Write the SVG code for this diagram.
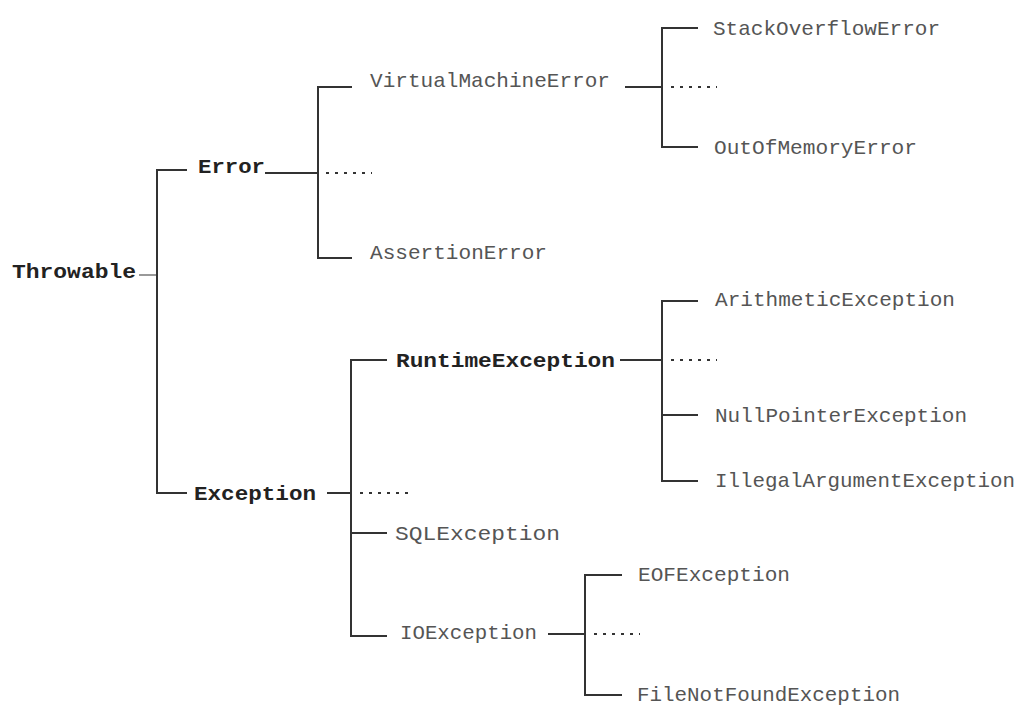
<svg xmlns="http://www.w3.org/2000/svg" width="1024" height="717" viewBox="0 0 1024 717">
<style>
.t{font-family:"Liberation Mono","Courier New",monospace;font-size:21px;fill:#555}
.b{font-family:"Liberation Mono","Courier New",monospace;font-size:21px;font-weight:bold;fill:#222}
.ln{stroke:#333;stroke-width:2;fill:none}
.dt{stroke:#333;stroke-width:2;fill:none;stroke-dasharray:3 6}
.gl{stroke:#999;stroke-width:2;fill:none}
</style>
<rect width="1024" height="717" fill="#fff"/>
<g id="connectors">
<line class="gl" x1="139" y1="275" x2="157" y2="275"/>
<polyline class="ln" points="187,170 157,170 157,493 187,493"/>
<line class="ln" x1="265" y1="173" x2="318" y2="173"/>
<polyline class="ln" points="352,87 318,87 318,258 352,258"/>
<line class="dt" x1="326" y1="173" x2="372" y2="173"/>
<line class="ln" x1="625" y1="87" x2="662" y2="87"/>
<polyline class="ln" points="698,28 662,28 662,147 698,147"/>
<line class="dt" x1="671" y1="87" x2="717" y2="87"/>
<line class="ln" x1="327" y1="493" x2="351" y2="493"/>
<polyline class="ln" points="387,360 351,360 351,636 387,636"/>
<line class="ln" x1="351" y1="533" x2="387" y2="533"/>
<line class="dt" x1="360" y1="493" x2="408" y2="493"/>
<line class="ln" x1="620" y1="360" x2="662" y2="360"/>
<polyline class="ln" points="698,301 662,301 662,481 698,481"/>
<line class="ln" x1="662" y1="415" x2="698" y2="415"/>
<line class="dt" x1="671" y1="360" x2="717" y2="360"/>
<line class="ln" x1="548" y1="634" x2="585" y2="634"/>
<polyline class="ln" points="622,575 585,575 585,695 622,695"/>
<line class="dt" x1="594" y1="634" x2="640" y2="634"/>
</g>
<g id="throwable"><text class="b" x="12" y="278" textLength="124" lengthAdjust="spacingAndGlyphs">Throwable</text></g>
<g id="error"><text class="b" x="198" y="173" textLength="67" lengthAdjust="spacingAndGlyphs">Error</text></g>
<g id="exception"><text class="b" x="194" y="500" textLength="122" lengthAdjust="spacingAndGlyphs">Exception</text></g>
<g id="virtualmachineerror"><text class="t" x="370" y="87" textLength="240" lengthAdjust="spacingAndGlyphs">VirtualMachineError</text></g>
<g id="assertionerror"><text class="t" x="370" y="259" textLength="177" lengthAdjust="spacingAndGlyphs">AssertionError</text></g>
<g id="stackoverflowerror"><text class="t" x="713" y="35" textLength="227" lengthAdjust="spacingAndGlyphs">StackOverflowError</text></g>
<g id="outofmemoryerror"><text class="t" x="714" y="154" textLength="203" lengthAdjust="spacingAndGlyphs">OutOfMemoryError</text></g>
<g id="runtimeexception"><text class="b" x="396" y="367" textLength="219" lengthAdjust="spacingAndGlyphs">RuntimeException</text></g>
<g id="sqlexception"><text class="t" x="395" y="540" textLength="165" lengthAdjust="spacingAndGlyphs">SQLException</text></g>
<g id="ioexception"><text class="t" x="400" y="639" textLength="137" lengthAdjust="spacingAndGlyphs">IOException</text></g>
<g id="arithmeticexception"><text class="t" x="715" y="306" textLength="240" lengthAdjust="spacingAndGlyphs">ArithmeticException</text></g>
<g id="nullpointerexception"><text class="t" x="715" y="422" textLength="252" lengthAdjust="spacingAndGlyphs">NullPointerException</text></g>
<g id="illegalargumentexception"><text class="t" x="715" y="487" textLength="300" lengthAdjust="spacingAndGlyphs">IllegalArgumentException</text></g>
<g id="eofexception"><text class="t" x="638" y="581" textLength="152" lengthAdjust="spacingAndGlyphs">EOFException</text></g>
<g id="filenotfoundexception"><text class="t" x="637" y="701" textLength="263" lengthAdjust="spacingAndGlyphs">FileNotFoundException</text></g>
</svg>
